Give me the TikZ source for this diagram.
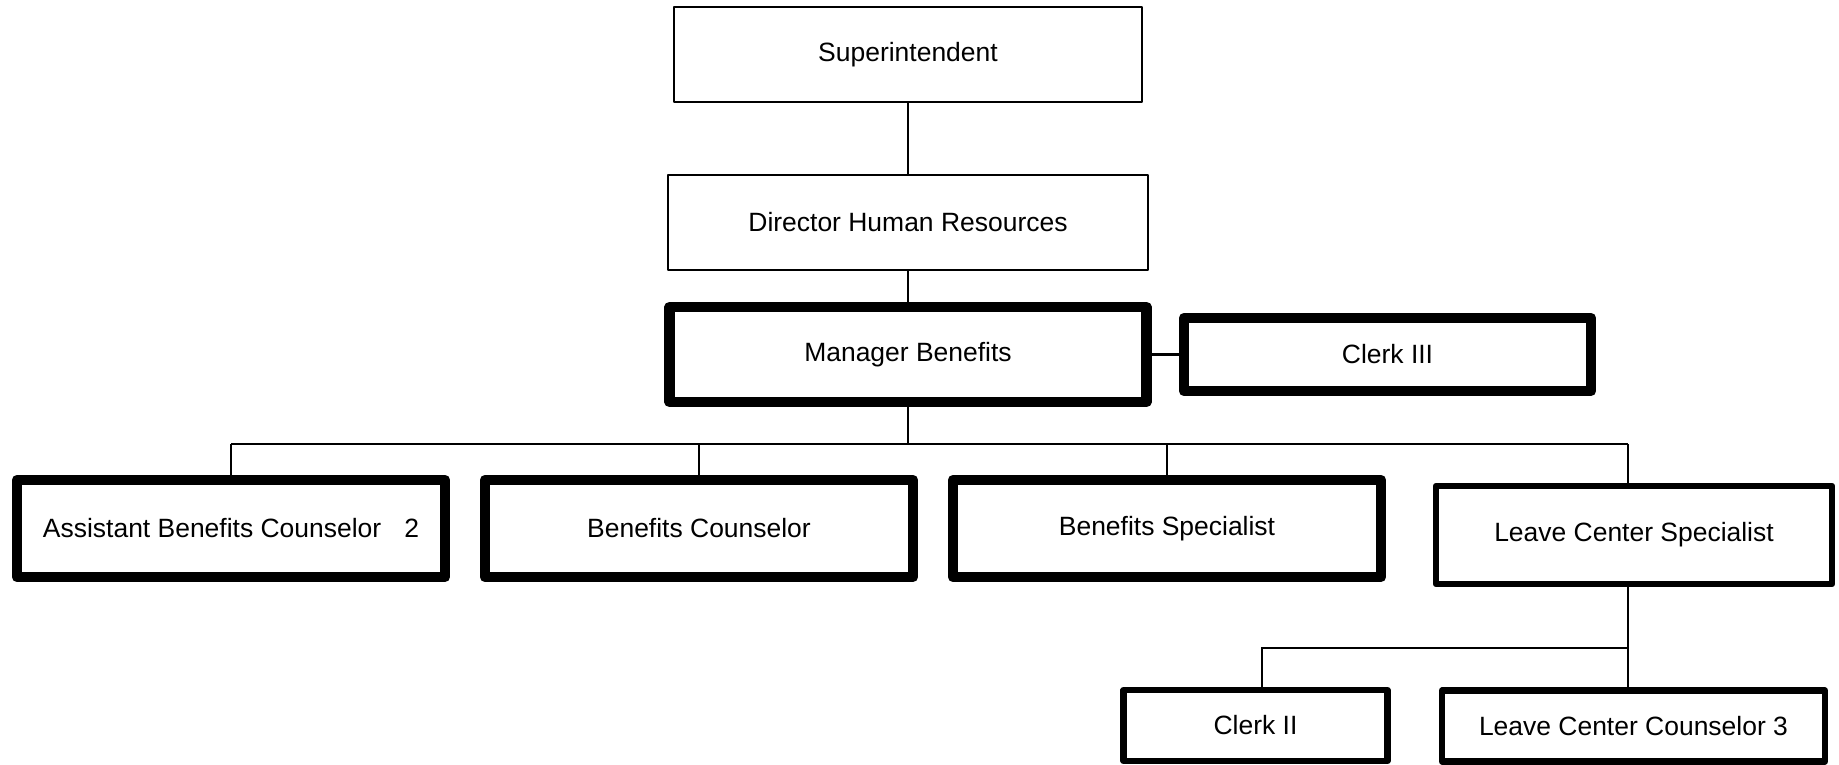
\documentclass[tikz,border=0pt]{standalone}
\usepackage{fontspec}
\setmainfont{Liberation Sans}

\begin{document}
\begin{tikzpicture}[x=0.017cm,y=-0.017cm,line width=1pt,
  every node/.style={font=\fontsize{12.8}{15}\selectfont},
  box/.style 2 args={draw,rectangle,inner sep=0pt,line join=round,
    minimum width=#1*0.017cm,minimum height=#2*0.017cm},
  plainbox/.style={line width=1.3pt},
  midbox/.style={line width=3.1pt},
  heavybox/.style={line width=5.1pt}]
  \useasboundingbox (0,0) rectangle (1839,765);
  % top of the chart
  \node[box={468}{95},plainbox] (sup) at (908,54.5) {Superintendent};
  \node[box={480}{95},plainbox] (dir) at (908,222.5) {Director Human Resources};
  \node[box={477}{95},heavybox] (mgr) at (908,354.5) {Manager Benefits};
  \node[box={407}{73},heavybox] (clk3) at (1387.5,354.5) {Clerk III};
  \draw (sup) -- (dir);
  \draw (dir) -- (mgr);
  \draw (mgr) -- (clk3);
  % staff under the manager
  \foreach \n/\x/\t in {abc/231/{Assistant Benefits Counselor\hspace{0.87em}2},
      bc/699/{Benefits Counselor},bs/1167/{Benefits Specialist}}
    \node[box={428}{97},heavybox] (\n) at (\x,528.5) {\t};
  \node[box={396}{98},midbox] (lcs) at (1634,535) {Leave Center Specialist};
  \coordinate (bus) at (908,444);
  \coordinate (spine) at (1628,444);
  \draw (mgr) -- (bus);
  \draw (bus -| abc) -- (spine);
  \foreach \n in {abc,bc,bs} \draw (bus -| \n) -- (\n);
  \draw (spine) -- (spine |- lcs.north);
  % leave center
  \node[box={264}{71},midbox] (clk2) at (1255.5,725.5) {Clerk II};
  \node[box={383}{71},midbox] (lcc) at (1633.5,726) {Leave Center Counselor 3};
  \coordinate (sub) at (1628,648);
  \coordinate (subleft) at (1262,648);
  \draw (spine |- lcs.south) -- (spine |- lcc.north);
  \draw (sub) -- (subleft) -- (subleft |- clk2.north);
\end{tikzpicture}
\end{document}
